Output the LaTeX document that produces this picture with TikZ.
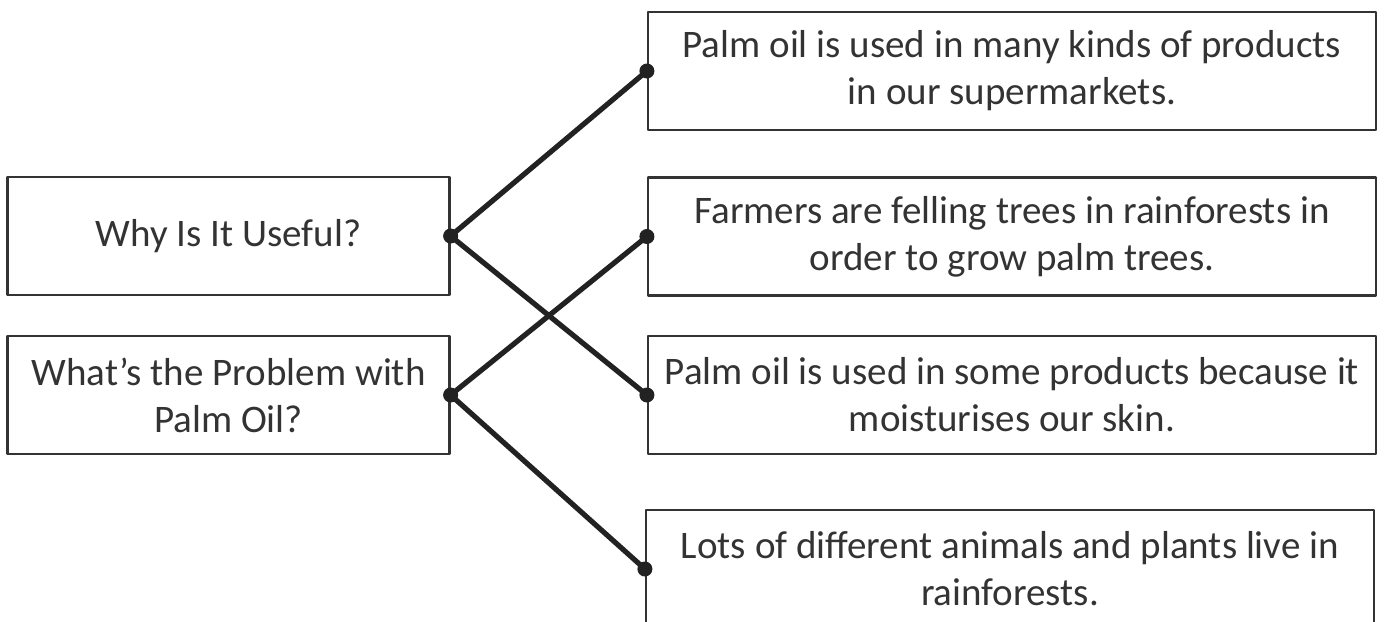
\documentclass[tikz,border=0pt]{standalone}
\usepackage{fontspec}
\setmainfont{Carlito}
\definecolor{boxline}{HTML}{333333}
\definecolor{linkline}{HTML}{222222}
\begin{document}
\begin{tikzpicture}[x=0.5pt, y=-0.5pt, line join=round, line cap=round,
  left node/.style={rectangle,draw=boxline,line width=1.1pt,minimum width=221pt,minimum height=59pt,inner sep=0pt,align=center},
  right node/.style={rectangle,draw=boxline,line width=1.1pt,minimum width=364pt,minimum height=59pt,inner sep=0pt,align=center},
  link/.style={draw=linkline,line width=2.6pt},
  dot/.style={circle,fill=linkline,minimum size=7.5pt,inner sep=0pt}]
\useasboundingbox (0,0) rectangle (1384,621);
\fill[white] (0,0) rectangle (1384,621);
\begin{scope}[every node/.style={font=\fontsize{19.5}{23.5}\selectfont,text=boxline}]
\node[left node] (why) at (228.5,236) {Why Is It Useful?};
\node[left node] (problem) at (228.5,395) {What’s the Problem with\\Palm Oil?};
\node[right node] (many) at (1012,71) {Palm oil is used in many kinds of products\\in our supermarkets.};
\node[right node] (felling) at (1012,236.5) {Farmers are felling trees in rainforests in\\order to grow palm trees.};
\node[right node] (skin) at (1012,395) {Palm oil is used in some products because it\\moisturises our skin.};
\node[right node] (animals) at (1010,569) {Lots of different animals and plants live in\\rainforests.};
\end{scope}
%links between the boxes
\draw[link] (why.east) -- (many.west);
\draw[link] (why.east) -- (skin.west);
\draw[link] (problem.east) -- (felling.west);
\draw[link] (problem.east) -- (animals.west);
\foreach \n in {why,problem}
  \node[dot] at (\n.east) {};
\foreach \n in {many,felling,skin,animals}
  \node[dot] at (\n.west) {};
\end{tikzpicture}
\end{document}
